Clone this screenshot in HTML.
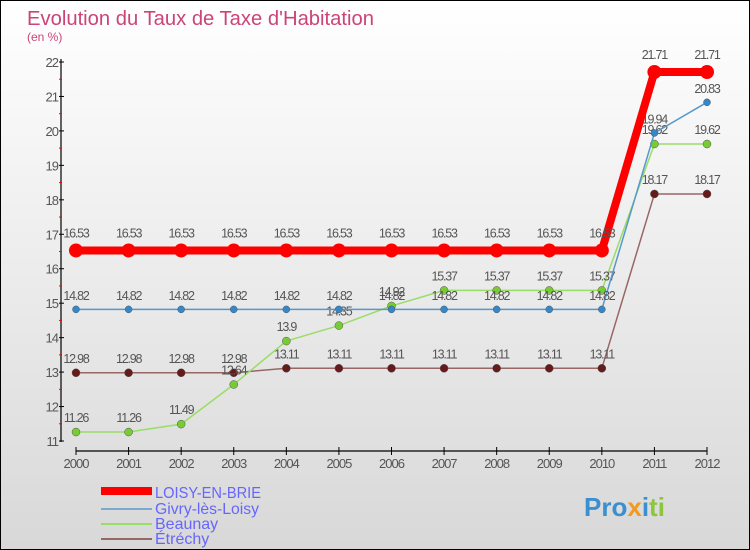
<!DOCTYPE html>
<html><head><meta charset="utf-8"><style>
body{margin:0}
#c{width:750px;height:550px;position:relative;box-sizing:border-box;border:1px solid #000;background:linear-gradient(#fff,#d8d8d8);overflow:hidden;font-family:"Liberation Sans",sans-serif}
</style></head><body>
<div id="c">
<svg id="s" width="748" height="548" style="position:absolute;left:0;top:0">
<text x="26" y="24" font-size="20" fill="#cc4477" textLength="347" lengthAdjust="spacingAndGlyphs">Evolution du Taux de Taxe d'Habitation</text>
<text x="26" y="40" font-size="12" fill="#cc4477">(en %)</text>
<g id="axes"></g><g id="series"></g>
<g font-size="16" fill="#6666ff">
<rect x="100" y="486" width="51" height="8" fill="#f00"/><text x="154" y="497" textLength="106" lengthAdjust="spacingAndGlyphs">LOISY-EN-BRIE</text>
<rect x="100" y="507" width="51" height="2" fill="#7aaacc"/><text x="154" y="513" textLength="104" lengthAdjust="spacingAndGlyphs">Givry-lès-Loisy</text>
<rect x="100" y="522" width="51" height="2" fill="#99dd66"/><text x="154" y="528">Beaunay</text>
<rect x="100" y="537" width="51" height="2" fill="#996666"/><text x="154" y="543">Étréchy</text>
</g>
<text x="583" y="515" font-size="26" font-weight="bold"><tspan fill="#3a8fd0">Pro</tspan><tspan fill="#f39a1e">x</tspan><tspan fill="#3a8fd0">i</tspan><tspan fill="#8cc63f">ti</tspan></text>
</svg>
</div>
<script>
const years=[2000,2001,2002,2003,2004,2005,2006,2007,2008,2009,2010,2011,2012];
const yTicks=[11,12,13,14,15,16,17,18,19,20,21,22];
const loisy=[16.53,16.53,16.53,16.53,16.53,16.53,16.53,16.53,16.53,16.53,16.53,21.71,21.71];
const givry=[14.82,14.82,14.82,14.82,14.82,14.82,14.82,14.82,14.82,14.82,14.82,19.94,20.83];
const beaunay=[11.26,11.26,11.49,12.64,13.9,14.35,14.92,15.37,15.37,15.37,15.37,19.62,19.62];
const etrechy=[12.98,12.98,12.98,12.98,13.11,13.11,13.11,13.11,13.11,13.11,13.11,18.17,18.17];
const NS='http://www.w3.org/2000/svg';
const X=i=>75+i*(706-75)/(years.length-1);
const Y=v=>440-(v-11)*(440-61)/11;
function mk(t,a,p){const e=document.createElementNS(NS,t);for(const k in a)e.setAttribute(k,a[k]);p.appendChild(e);return e;}
const ax=document.getElementById('axes'),sg=document.getElementById('series');
let l=mk('line',{x1:60,y1:58,x2:60,y2:441,stroke:'#000','stroke-width':1.2},ax);

l=mk('line',{x1:75,y1:450,x2:706,y2:450,stroke:'#000','stroke-width':1.2},ax);

yTicks.forEach((v,i)=>{
 mk('line',{x1:58,x2:63,y1:Y(v),y2:Y(v),stroke:'#000'},ax);
 if(i<yTicks.length-1)mk('line',{x1:58,x2:61,y1:Y(v+0.5),y2:Y(v+0.5),stroke:'#f00'},ax);
 const t=mk('text',{x:57,y:Y(v)+5,'font-size':13,fill:'#555','text-anchor':'end','letter-spacing':'-1'},ax);t.textContent=v;
 
});
years.forEach((y,i)=>{
 mk('line',{x1:X(i),x2:X(i),y1:446,y2:454,stroke:'#000'},ax);
 const t=mk('text',{x:X(i),y:467,'font-size':13,fill:'#555','text-anchor':'middle','letter-spacing':'-1'},ax);t.textContent=y;
 
});
function series(d,name,line,dot,w,r){
 const g=mk('g',{},sg);
 mk('polyline',{points:d.map((v,i)=>X(i)+','+Y(v)).join(' '),fill:'none',stroke:line,'stroke-width':w},g);
 d.forEach((v,i)=>{
  const c=mk('circle',{cx:X(i),cy:Y(v),r:r,fill:dot,stroke:line==dot?'none':'#555','stroke-width':0.5},g);
  
  const t=mk('text',{x:X(i),y:Y(v)-(r+6),'font-size':12.5,fill:'#555','text-anchor':'middle','letter-spacing':'-1.2'},g);t.textContent=v;
  
 });
}
series(etrechy,'etrechy','#996666','#661a1a',1.5,4);
series(beaunay,'beaunay','#99dd66','#77cc33',1.5,4);
series(givry,'givry','#5599cc','#3388cc',1.5,3.5);
series(loisy,'loisy','#ff0000','#ff0000',8,7);
</script>
</body></html>
